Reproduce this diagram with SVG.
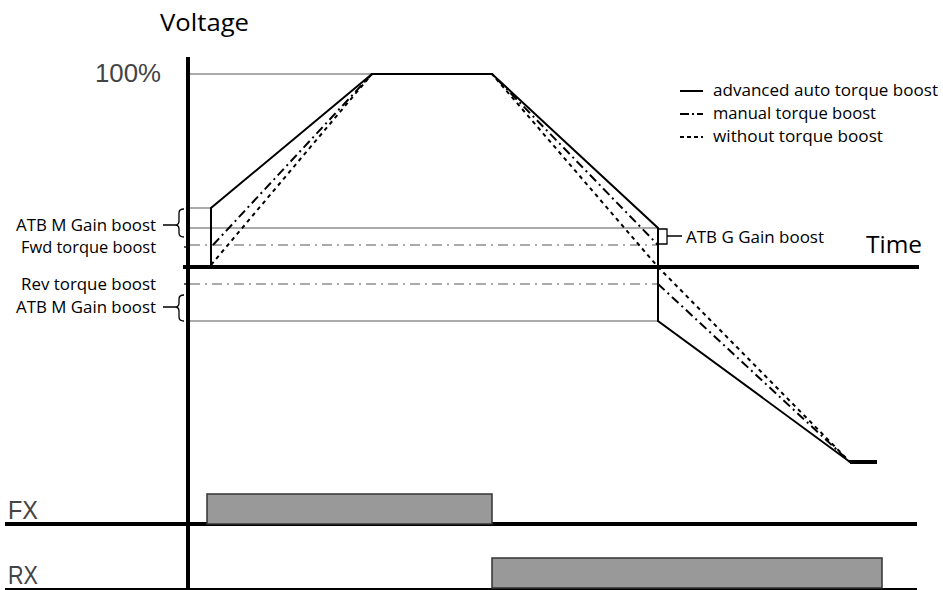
<svg xmlns="http://www.w3.org/2000/svg" width="943" height="590" viewBox="0 0 943 590">
<style>
.axis{stroke:#000;stroke-width:4;fill:none}
.ref{stroke:#aaa;stroke-width:2;fill:none}
.refdd{stroke:#aaa;stroke-width:2;fill:none;stroke-dasharray:10,5,2,5}
.atb{stroke:#000;stroke-width:2;fill:none}
.man{stroke:#000;stroke-width:2;fill:none;stroke-dasharray:9,4,2,4}
.wo{stroke:#000;stroke-width:2;fill:none;stroke-dasharray:4,4}
.br{stroke:#000;stroke-width:1.3;fill:none}
.lbl{font-family:"Open Sans","Liberation Sans",sans-serif;font-size:17px;fill:#000}
.big{font-family:"Open Sans","Liberation Sans",sans-serif;font-size:24px;fill:#000}
.sig{font-family:"Liberation Sans",sans-serif;font-size:25px;fill:#444}
.pulse{fill:#999;stroke:#333;stroke-width:1.5}
</style>
<rect width="943" height="590" fill="#fff"/>
<g id="axes">
<line class="axis" x1="188" y1="57" x2="188" y2="590"/>
<line class="axis" x1="183" y1="267" x2="919" y2="267"/>
<line class="axis" x1="5" y1="524" x2="917" y2="524"/>
<line x1="5" y1="589" x2="917" y2="589" stroke="#000" stroke-width="2"/>
<text class="big" x="160" y="31" textLength="89" lengthAdjust="spacingAndGlyphs">Voltage</text>
<text class="big" x="866" y="253" textLength="56" lengthAdjust="spacingAndGlyphs">Time</text>
<text class="sig" x="95" y="82" textLength="66" lengthAdjust="spacingAndGlyphs">100%</text>
</g>
<g id="reference-lines">
<line class="ref" x1="190" y1="74" x2="372" y2="74"/>
<line class="ref" x1="190" y1="208" x2="211" y2="208"/>
<line class="ref" x1="190" y1="228" x2="658" y2="228"/>
<line class="refdd" x1="190" y1="245" x2="658" y2="245"/>
<line class="refdd" x1="190" y1="284" x2="658" y2="284"/>
<line class="ref" x1="190" y1="321" x2="658" y2="321"/>
</g>
<g id="curves">
<polyline class="atb" points="211,267 211,208 372,74 492,74 658,228 658,321 850,462"/>
<line x1="850" y1="462" x2="877" y2="462" stroke="#000" stroke-width="4"/>
<polyline class="man" points="213,245 372,74 492,74 658,245"/>
<line class="man" x1="658" y1="284" x2="850" y2="462"/>
<polyline class="wo" points="211,265 372,74 492,74 658,267 850,462"/>
</g>
<g id="labels">
<text class="lbl" x="156" y="231" text-anchor="end" textLength="140" lengthAdjust="spacingAndGlyphs">ATB M Gain boost</text>
<text class="lbl" x="156" y="253" text-anchor="end" textLength="135" lengthAdjust="spacingAndGlyphs">Fwd torque boost</text>
<text class="lbl" x="156" y="290" text-anchor="end" textLength="135" lengthAdjust="spacingAndGlyphs">Rev torque boost</text>
<text class="lbl" x="156" y="313" text-anchor="end" textLength="140" lengthAdjust="spacingAndGlyphs">ATB M Gain boost</text>
<text class="lbl" x="686" y="243" textLength="138" lengthAdjust="spacingAndGlyphs">ATB G Gain boost</text>
<path class="br" d="M163,225 H175 M184,209 Q179,209 179,213 V221 Q179,225 175,225 Q179,225 179,229 V233 Q179,237 184,237"/>
<line class="br" x1="184" y1="247" x2="188" y2="247"/>
<line class="br" x1="184" y1="284" x2="188" y2="284"/>
<path class="br" d="M163,307 H175 M184,295 Q179,295 179,299 V303 Q179,307 175,307 Q179,307 179,311 V317 Q179,321 184,321"/>
<path class="br" d="M658,229 H667 V244 H658 M667,236 H682"/>
</g>
<g id="legend">
<line class="atb" x1="680" y1="91" x2="703" y2="91"/>
<line class="man" x1="680" y1="114" x2="703" y2="114" style="stroke-dasharray:9,3,2,3"/>
<line class="wo" x1="680" y1="137" x2="703" y2="137" style="stroke-dasharray:4,3"/>
<text class="lbl" x="713" y="96" textLength="225" lengthAdjust="spacingAndGlyphs">advanced auto torque boost</text>
<text class="lbl" x="713" y="119" textLength="163" lengthAdjust="spacingAndGlyphs">manual torque boost</text>
<text class="lbl" x="713" y="142" textLength="170" lengthAdjust="spacingAndGlyphs">without torque boost</text>
</g>
<g id="FX">
<text class="sig" x="8" y="519" textLength="30" lengthAdjust="spacingAndGlyphs">FX</text>
<rect class="pulse" x="207" y="494" width="285" height="30"/>
</g>
<g id="RX">
<text class="sig" x="8" y="584" textLength="30" lengthAdjust="spacingAndGlyphs">RX</text>
<rect class="pulse" x="492" y="558" width="390" height="30"/>
</g>
</svg>
